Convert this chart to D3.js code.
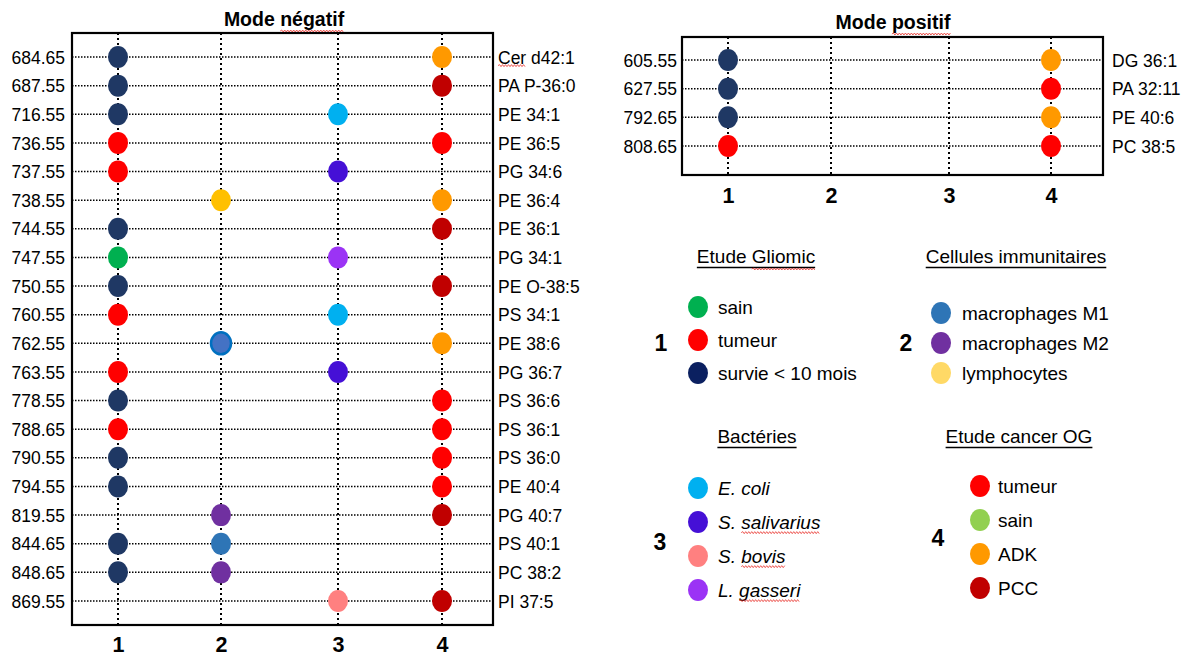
<!DOCTYPE html>
<html><head><meta charset="utf-8">
<script src="https://cdn.jsdelivr.net/npm/d3@7"></script>
<style>
body{margin:0;background:#fff}
svg text{font-family:"Liberation Sans",Arial,sans-serif;fill:#000}
</style>
</head><body>
<svg id="c" width="1186" height="657"></svg>
<script>
// ---------- DATA ----------
const columns = [1, 2, 3, 4];

const negMz = ["684.65","687.55","716.55","736.55","737.55","738.55","744.55","747.55","750.55","760.55",
               "762.55","763.55","778.55","788.65","790.55","794.55","819.55","844.65","848.65","869.55"];
const negLipids = ["Cer d42:1","PA P-36:0","PE 34:1","PE 36:5","PG 34:6","PE 36:4","PE 36:1","PG 34:1","PE O-38:5","PS 34:1",
                   "PE 38:6","PG 36:7","PS 36:6","PS 36:1","PS 36:0","PE 40:4","PG 40:7","PS 40:1","PC 38:2","PI 37:5"];
// category present in each column (1: Gliomic, 2: immune cells, 3: bacteria, 4: OG cancer)
const negCol1 = ["surv","surv","surv","tum","tum",null,"surv","sain","surv","tum",null,"tum","surv","tum","surv","surv",null,"surv","surv",null];
const negCol2 = [null,null,null,null,null,"lymph",null,null,null,null,"m1b",null,null,null,null,null,"m2","m1","m2",null];
const negCol3 = [null,null,"ecoli",null,"saliv",null,null,"gass",null,"ecoli",null,"saliv",null,null,null,null,null,null,null,"bovis"];
const negCol4 = ["adk","pcc",null,"ogtum",null,"adk","pcc",null,"pcc",null,"adk",null,"ogtum","ogtum","ogtum","ogtum","pcc",null,null,"pcc"];

const posMz = ["605.55","627.55","792.65","808.65"];
const posLipids = ["DG 36:1","PA 32:11","PE 40:6","PC 38:5"];
const posCol1 = ["surv","surv","surv","tum"];
const posCol2 = [null,null,null,null];
const posCol3 = [null,null,null,null];
const posCol4 = ["adk","ogtum","adk","ogtum"];

const legendNumbers = ["1","2","3","4"];
const legendTitles = ["Etude Gliomic","Cellules immunitaires","Bactéries","Etude cancer OG"];
const legendLabels = [["sain","tumeur","survie < 10 mois"],
                      ["macrophages M1","macrophages M2","lymphocytes"],
                      ["E. coli","S. salivarius","S. bovis","L. gasseri"],
                      ["tumeur","sain","ADK","PCC"]];
const legendKeys = [["sain","tum","surv"],["m1","m2","lymph"],["ecoli","saliv","bovis","gass"],["ogtum","ogsain","adk","pcc"]];

// ---------- STYLES ----------
const colors = {surv:"#1f3864", tum:"#ff0000", sain:"#00b050", m1:"#2e75b6", m1b:"#4472c4", m2:"#7030a0",
  lymph:"#ffc000", ecoli:"#00b0f0", saliv:"#4510d6", bovis:"#ff8080", gass:"#9b33f5",
  ogtum:"#ff0000", ogsain:"#92d050", adk:"#ff9900", pcc:"#c00000"};
const strokes = {m1b:"#0070c0"};
const legendColors = Object.assign({}, colors, {surv:"#0b2060", lymph:"#ffd966"});

const svg = d3.select("#c");
const FONT_AX = 17.5;

function wavy(parent, x0, x1, y) {
  let d = `M${x0},${y}`;
  let up = true;
  for (let x = x0 + 1.5; x <= x1; x += 1.5) { d += `L${x},${y + (up ? -1 : 1)}`; up = !up; }
  parent.append("path").attr("d", d).attr("fill", "none").attr("stroke", "#e8302a").attr("stroke-width", 0.8);
}
function wavyWord(textNode, word, extra) {
  const s = textNode.textContent;
  const i = s.indexOf(word);
  if (i < 0) return;
  const a = textNode.getStartPositionOfChar(i).x;
  const b = textNode.getEndPositionOfChar(i + word.length - 1).x;
  const bb = textNode.getBBox();
  wavy(d3.select(textNode.parentNode), a, b, bb.y + bb.height + (extra || 0));
}

function panel(p) {
  const g = svg.append("g");
  const x = d3.scaleLinear().domain(columns).range(p.cols);
  const y = d3.scalePoint().domain(p.mz).range(p.rows);
  const yR = d3.scalePoint().domain(p.lipids).range(p.rows);

  // vertical dotted grid
  g.selectAll(".vg").data(columns).join("line")
    .attr("x1", d => x(d)).attr("x2", d => x(d)).attr("y1", p.y0).attr("y2", p.y1)
    .attr("stroke", "#000").attr("stroke-width", 2).attr("stroke-dasharray", "2,3");
  // horizontal dotted grid
  g.selectAll(".hg").data(p.mz).join("line")
    .attr("x1", p.x0).attr("x2", p.x1).attr("y1", d => y(d)).attr("y2", d => y(d))
    .attr("stroke", "#000").attr("stroke-width", 1.5).attr("stroke-dasharray", "1.5,1.5");
  // frame
  g.append("rect").attr("x", p.x0).attr("y", p.y0).attr("width", p.x1 - p.x0).attr("height", p.y1 - p.y0)
    .attr("fill", "none").attr("stroke", "#000").attr("stroke-width", 2.2);

  // points
  const pts = [];
  p.groups.forEach((arr, ci) => arr.forEach((k, ri) => { if (k) pts.push({col: columns[ci], mz: p.mz[ri], k}); }));
  g.selectAll("ellipse").data(pts).join("ellipse")
    .attr("cx", d => x(d.col)).attr("cy", d => y(d.mz)).attr("rx", 10).attr("ry", 11)
    .attr("fill", d => colors[d.k])
    .attr("stroke", d => strokes[d.k] || "none").attr("stroke-width", 2.5);

  // left axis (m/z)
  const ya = g.append("g").attr("transform", `translate(${p.x0},0)`)
    .call(d3.axisLeft(y).tickSize(0).tickPadding(p.padL));
  ya.select(".domain").remove();
  ya.selectAll("text").attr("font-size", FONT_AX).attr("dy", "0.35em");

  // right axis (lipids)
  const yr = g.append("g").attr("transform", `translate(${p.x1},0)`)
    .call(d3.axisRight(yR).tickSize(0).tickPadding(p.padR));
  yr.select(".domain").remove();
  yr.selectAll("text").attr("font-size", FONT_AX).attr("dy", "0.35em");

  // bottom axis (columns)
  const xa = g.append("g").attr("transform", `translate(0,${p.y1})`)
    .call(d3.axisBottom(x).tickValues(columns).tickSize(0).tickFormat(d3.format("d")));
  xa.select(".domain").remove();
  xa.selectAll("text").attr("font-size", 21.5).attr("font-weight", "bold").attr("dy", null).attr("y", p.xlab);

  // title
  const t = g.append("text").attr("x", p.tx).attr("y", p.ty).attr("text-anchor", "middle")
    .attr("font-size", 19.5).attr("font-weight", "bold").text(p.title);
  wavyWord(t.node(), p.titleWavy, 1);
  return yr;
}

panel({x0:72, x1:493, y0:33, y1:625, cols:[118,221,338,442], rows:[57,601],
  mz:negMz, lipids:negLipids, groups:[negCol1,negCol2,negCol3,negCol4],
  padL:7, padR:5, xlab:27, title:"Mode négatif", titleWavy:"négatif", tx:284, ty:26});
// wavy under "Cer"
svg.selectAll("text").filter(function(){ return this.textContent === "Cer d42:1"; })
  .each(function(){ wavyWord(this, "Cer", -2); });

panel({x0:682, x1:1103, y0:37, y1:175, cols:[728,831,949,1051], rows:[60,146],
  mz:posMz, lipids:posLipids, groups:[posCol1,posCol2,posCol3,posCol4],
  padL:5, padR:9, xlab:28, title:"Mode positif", titleWavy:"positif", tx:893, ty:29});

// ---------- LEGENDS ----------
const legendLayout = [
  {hx:756, hy:263, nx:661, ny:343, dx:698, tx:718, y0:307, step:33},
  {hx:1016, hy:263, nx:906, ny:343, dx:941, tx:962, y0:313, step:30},
  {hx:757, hy:443, nx:660, ny:542, dx:698, tx:718, y0:488, step:34},
  {hx:1019, hy:443, nx:938, ny:538, dx:980, tx:998, y0:486, step:34}];
const italicGroup = [false, false, true, false];
const wavyWords = ["salivarius", "bovis", "gasseri"];

legendTitles.forEach((title, gi) => {
  const L = legendLayout[gi];
  const g = svg.append("g");
  const h = g.append("text").attr("x", L.hx).attr("y", L.hy).attr("text-anchor", "middle")
    .attr("font-size", 19).text(title);
  const w = h.node().getComputedTextLength();
  g.append("line").attr("x1", L.hx - w / 2).attr("x2", L.hx + w / 2).attr("y1", L.hy + 4.5).attr("y2", L.hy + 4.5)
    .attr("stroke", "#000").attr("stroke-width", 1.6);
  g.append("text").attr("x", L.nx).attr("y", L.ny).attr("dy", "0.36em").attr("text-anchor", "middle")
    .attr("font-size", 23).attr("font-weight", "bold").text(legendNumbers[gi]);
  const items = legendLabels[gi].map((lab, i) => ({lab, k: legendKeys[gi][i], i}));
  g.selectAll("ellipse").data(items).join("ellipse")
    .attr("cx", L.dx).attr("cy", d => L.y0 + d.i * L.step).attr("rx", 10).attr("ry", 11)
    .attr("fill", d => legendColors[d.k]);
  const tx = g.selectAll(".it").data(items).join("text").attr("class", "it")
    .attr("x", L.tx).attr("y", d => L.y0 + d.i * L.step).attr("dy", "0.35em")
    .attr("font-size", 19).attr("font-style", italicGroup[gi] ? "italic" : null).text(d => d.lab);
  if (gi === 0) wavyWord(h.node(), "Gliomic", 2);
  tx.each(function(){ wavyWords.forEach(wd => { if (this.textContent.includes(wd)) wavyWord(this, wd, 0); }); });
});
</script>
</body></html>
